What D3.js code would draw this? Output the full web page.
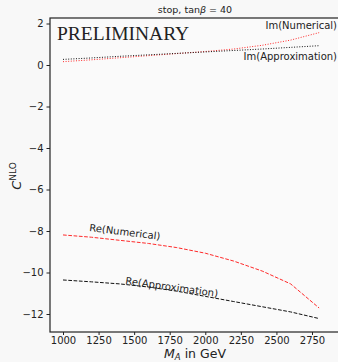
<!DOCTYPE html>
<html><head><meta charset="utf-8">
<script src="https://cdn.jsdelivr.net/npm/d3@7"></script>
<style>body{margin:0;background:#f8f8f8}svg{display:block}</style>
</head><body><svg id="c" width="338" height="362"></svg>
<script>
const masses = [1000,1200,1400,1600,1800,2000,2200,2400,2600,2800];
const reNumerical = [-8.19,-8.3,-8.45,-8.6,-8.8,-9.07,-9.45,-9.93,-10.55,-11.71];
const reApprox = [-10.36,-10.45,-10.55,-10.7,-10.9,-11.15,-11.4,-11.65,-11.9,-12.22];
const imNumerical = [0.16,0.25,0.35,0.45,0.55,0.65,0.77,0.95,1.2,1.56];
const imApprox = [0.27,0.34,0.42,0.49,0.56,0.63,0.70,0.77,0.85,0.93];
const xTicks = [1000,1250,1500,1750,2000,2250,2500,2750];
const yTicks = [2,0,-2,-4,-6,-8,-10,-12];

const svg = d3.select('#c');
const font = 'DejaVu Sans';
const L=50, T=18, R=345, B=332;
const x = d3.scaleLinear().domain([1000,2750]).range([63,312]);
const y = d3.scaleLinear().domain([0,-12]).range([65,314]);

svg.append('rect').attr('width',338).attr('height',362).attr('fill','#f8f8f8');
svg.append('rect').attr('x',L).attr('y',T).attr('width',R-L).attr('height',B-T)
  .attr('fill','#fafafa').attr('stroke','#222').attr('stroke-width',1.2);

const xa = svg.append('g').attr('transform',`translate(0,${B})`)
  .call(d3.axisBottom(x).tickValues(xTicks).tickSize(3).tickPadding(1.5).tickFormat(d3.format('d')));
const ya = svg.append('g').attr('transform',`translate(${L},0)`)
  .call(d3.axisLeft(y).tickValues(yTicks).tickSize(3.5).tickPadding(3).tickFormat(d=>d<0?'\u2212'+(-d):d));
[xa,ya].forEach(a=>{a.select('.domain').remove();
  a.selectAll('text').attr('font-family',font).attr('font-size',10).attr('fill','#222');
  a.selectAll('line').attr('stroke','#222');});

const line = vals => d3.line().x((d,i)=>x(masses[i])).y(d=>y(d))(vals);
svg.append('path').attr('d',line(reNumerical)).attr('fill','none').attr('stroke','#ff2a2a').attr('stroke-width',1).attr('stroke-dasharray','3.7,1.6');
svg.append('path').attr('d',line(reApprox)).attr('fill','none').attr('stroke','#111').attr('stroke-width',1).attr('stroke-dasharray','3.7,1.6');
svg.append('path').attr('d',line(imNumerical)).attr('fill','none').attr('stroke','#ff2a2a').attr('stroke-width',1).attr('stroke-dasharray','1,1.6');
svg.append('path').attr('d',line(imApprox)).attr('fill','none').attr('stroke','#111').attr('stroke-width',1).attr('stroke-dasharray','1,1.6');

const t = (s,xx,yy,opt={}) => svg.append('text').attr('x',xx).attr('y',yy)
  .attr('font-family',opt.ff||font).attr('font-size',opt.fs||10).attr('fill','#222')
  .attr('text-anchor',opt.a||'start').attr('transform',opt.r?`rotate(${opt.r},${xx},${yy})`:null).text(s);

t('PRELIMINARY',57,40,{ff:'Liberation Serif',fs:19.5});
t('Im(Numerical)',337,29,{a:'end'});
t('Im(Approximation)',337,60,{a:'end'});
t('Re(Numerical)',89,231,{r:7});
t('Re(Approximation)',125,284,{r:8});

const title = svg.append('text').attr('x',195).attr('y',13).attr('text-anchor','middle')
  .attr('font-family',font).attr('font-size',9.5).attr('fill','#222');
title.append('tspan').text('stop, tan');
title.append('tspan').attr('font-style','italic').text('\u03b2');
title.append('tspan').text(' = 40');

const xl = svg.append('text').attr('x',195).attr('y',357.5).attr('text-anchor','middle')
  .attr('font-family',font).attr('font-size',12.5).attr('fill','#222');
xl.append('tspan').attr('font-style','italic').text('M');
xl.append('tspan').attr('font-style','italic').attr('font-size',8.5).attr('dy',2).text('A');
xl.append('tspan').attr('dy',-2).text(' in GeV');

const yl = svg.append('text').attr('transform','translate(21,176) rotate(-90)').attr('text-anchor','middle')
  .attr('font-family',font).attr('font-size',13).attr('fill','#222');
yl.append('tspan').attr('font-style','italic').text('C');
yl.append('tspan').attr('font-size',9).attr('dy',-5).text('NLO');
</script></body></html>
